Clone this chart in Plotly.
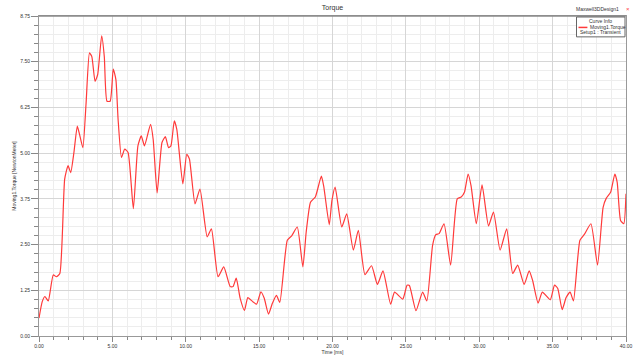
import plotly.graph_objects as go

time_ms = [0.00, 0.22, 0.40, 0.63, 0.97, 1.19, 1.42, 1.75, 1.98, 2.16, 2.38, 2.61, 2.76, 2.99,
           3.21, 3.44, 3.60, 3.82, 4.00, 4.27, 4.45, 4.63, 4.85, 5.06, 5.24, 5.39, 5.62, 5.84,
           6.07, 6.43, 6.74, 6.97, 7.19, 7.60, 7.78, 8.05, 8.38, 8.61, 8.83, 8.99, 9.22, 9.39,
           9.80, 10.07, 10.25, 10.63, 10.97, 11.46, 11.75, 12.20, 12.59, 13.03, 13.22, 13.44,
           13.71, 14.00, 14.23, 14.56, 14.83, 15.12, 15.35, 15.64, 15.91, 16.18, 16.41, 16.92,
           17.22, 17.60, 17.98, 18.21, 18.50, 18.83, 19.24, 19.40, 19.78, 19.96, 20.18, 20.63,
           20.97, 21.42, 21.76, 22.21, 22.66, 23.06, 23.44, 23.96, 24.23, 24.79, 25.08, 25.24,
           25.69, 26.14, 26.43, 26.82, 27.04, 27.26, 27.60, 28.05, 28.50, 28.77, 28.99, 29.24,
           29.44, 29.80, 30.19, 30.63, 30.97, 31.42, 31.87, 32.28, 32.62, 33.06, 33.40, 33.63,
           34.01, 34.30, 34.84, 35.13, 35.35, 35.65, 35.92, 36.19, 36.42, 36.86, 37.15, 37.61,
           38.06, 38.44, 38.66, 38.95, 39.24, 39.40, 39.63, 39.85, 40.00]
torque_nm = [0.49, 0.94, 1.08, 0.96, 1.67, 1.62, 1.71, 4.29, 4.66, 4.47, 5.02, 5.74, 5.52, 5.15,
             6.38, 7.74, 7.64, 6.96, 7.15, 8.21, 7.64, 6.42, 6.42, 7.30, 7.01, 5.92, 4.88, 5.11,
             5.02, 3.48, 5.20, 5.47, 5.20, 5.79, 5.38, 3.91, 5.29, 5.45, 5.15, 5.20, 5.88, 5.65,
             4.16, 4.97, 4.84, 3.61, 4.02, 2.71, 2.93, 1.62, 1.89, 1.35, 1.35, 1.58,
             1.03, 0.70, 1.05, 0.94, 0.87, 1.21, 1.03, 0.60, 0.90, 1.11, 0.92, 2.62,
             2.74, 2.98, 1.89, 2.85, 3.66, 3.80, 4.37, 4.10, 3.04, 3.70, 4.07, 2.98,
             3.34, 2.35, 2.89, 1.68, 1.92, 1.41, 1.78, 0.87, 1.20, 1.01, 1.39, 1.38,
             0.69, 1.20, 0.96, 2.48, 2.77, 2.80, 3.07, 1.94, 3.75, 3.80, 3.93, 4.43,
             4.11, 3.07, 4.13, 3.01, 3.39, 2.35, 2.93, 1.71, 1.94, 1.41, 1.78, 1.53,
             0.90, 1.20, 0.99, 1.39, 1.30, 0.72, 1.05, 1.20, 0.96, 2.62, 2.77, 3.07,
             1.94, 3.52, 3.77, 3.93, 4.43, 4.20, 3.16, 3.07, 3.89]

x_ticks = [0, 5, 10, 15, 20, 25, 30, 35, 40]
y_ticks = [0, 1.25, 2.5, 3.75, 5.0, 6.25, 7.5, 8.75]

FONT = "Liberation Sans"
TXT = "#333333"

fig = go.Figure()
fig.add_trace(go.Scatter(
    x=time_ms, y=torque_nm, mode="lines",
    line=dict(color="#ff3a3a", width=1.2, shape="spline", smoothing=0.5),
    name="Moving1.Torque", showlegend=False, hoverinfo="skip"))

fig.update_layout(
    width=637, height=359,
    margin=dict(l=39, r=5, t=16, b=21),
    paper_bgcolor="white", plot_bgcolor="white",
    font=dict(family=FONT, size=5, color=TXT),
    title=dict(text="Torque", x=0.5, xref="paper", y=1 - 8 / 359, yanchor="middle",
               font=dict(size=7, color="#333333", family=FONT)),
)

fig.update_xaxes(
    range=[0, 40], tickvals=x_ticks, tickformat=".2f", ticklabeloverflow="allow",
    ticks="outside", ticklen=5, tickwidth=1, tickcolor="#888888",
    showline=True, linecolor="#999999", linewidth=1, mirror=True,
    showgrid=True, gridcolor="#d6d6d6", gridwidth=1, zeroline=False,
    minor=dict(dtick=1, ticks="outside", ticklen=3, tickcolor="#888888",
               showgrid=True, gridcolor="#ededed", gridwidth=1),
    tickfont=dict(size=5, color=TXT),
    title=dict(text="Time [ms]", standoff=1, font=dict(size=5, color=TXT)),
)
fig.update_yaxes(
    range=[0, 8.75], tickvals=y_ticks, tickformat=".2f",
    ticks="outside", ticklen=7, tickwidth=1, tickcolor="#888888",
    showline=True, linecolor="#999999", linewidth=1, mirror=True,
    showgrid=True, gridcolor="#d6d6d6", gridwidth=1, zeroline=False,
    minor=dict(dtick=0.25, ticks="outside", ticklen=4, tickcolor="#888888",
               showgrid=True, gridcolor="#ededed", gridwidth=1),
    tickfont=dict(size=5, color=TXT),
    title=dict(text="Moving1.Torque [NewtonMeter]", standoff=3, font=dict(size=5, color=TXT)),
)

# top border of the plot frame (darker)
fig.add_shape(type="line", xref="paper", yref="paper", x0=0, x1=1, y0=1, y1=1,
              line=dict(color="#8a8a8a", width=1.5))

# design label at top right
fig.add_annotation(xref="paper", yref="paper", x=(627 - 39) / 593, y=1 + 7 / 322,
                   text="Maxwell3DDesign1", showarrow=False, xanchor="right", yanchor="middle",
                   font=dict(size=5, color=TXT))
fig.add_annotation(xref="paper", yref="paper", x=(634 - 39) / 593, y=1 + 7 / 322,
                   text="×", showarrow=False, xanchor="center", yanchor="middle",
                   font=dict(size=6, color="#ff4040"))

# curve info box (legend)
bx0, bx1, by0, by1 = 582, 631, 17, 37
def px(xp):
    return (xp - 39) / 593
def py(yp):
    return (338 - yp) / 322
fig.add_shape(type="rect", xref="paper", yref="paper", x0=px(bx0), x1=px(bx1), y0=py(by1), y1=py(by0),
              line=dict(color="#666666", width=1), fillcolor="white")
fig.add_annotation(xref="paper", yref="paper", x=px((bx0 + bx1) / 2), y=py(21),
                   text="Curve Info", showarrow=False, xanchor="center", yanchor="middle",
                   font=dict(size=5, color=TXT))
fig.add_shape(type="line", xref="paper", yref="paper", x0=px(584), x1=px(593), y0=py(27.5), y1=py(27.5),
              line=dict(color="#ff3a3a", width=1.5))
fig.add_annotation(xref="paper", yref="paper", x=px(594), y=py(27.5),
                   text="Moving1.Torque", showarrow=False, xanchor="left", yanchor="middle",
                   font=dict(size=5, color=TXT))
fig.add_annotation(xref="paper", yref="paper", x=px(584), y=py(32.5),
                   text="Setup1 : Transient", showarrow=False, xanchor="left", yanchor="middle",
                   font=dict(size=5, color=TXT))

fig.write_html("out.html")
